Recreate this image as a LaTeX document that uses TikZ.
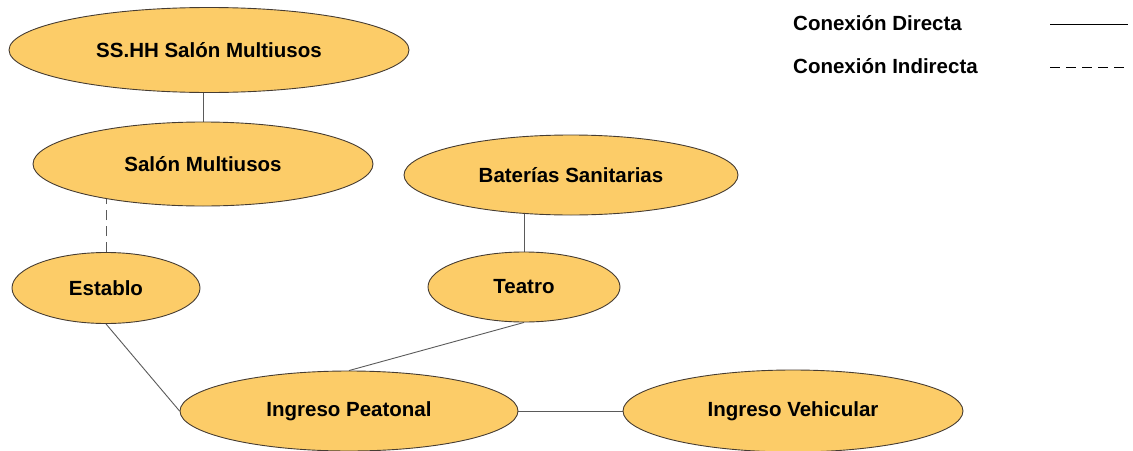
\documentclass[tikz,border=0pt]{standalone}
\usepackage{fontspec}
\setmainfont{Liberation Sans}
\usetikzlibrary{shapes.geometric,backgrounds}
\definecolor{bubble}{RGB}{252,204,104}
\definecolor{rim}{RGB}{70,60,50}
\definecolor{wire}{RGB}{90,90,90}
\tikzset{
  bubblenode/.style={ellipse, draw=rim, line width=0.9pt, fill=bubble, inner sep=0pt,
    font=\fontsize{20.5}{24}\selectfont\bfseries},
  wirestyle/.style={draw=wire, line width=0.9pt},
  wiredash/.style={draw=wire, line width=0.9pt, dash pattern=on 10pt off 6pt},
  legendtext/.style={anchor=west, inner sep=0pt, font=\fontsize{20.5}{24}\selectfont\bfseries}
}
\begin{document}
\begin{tikzpicture}[x=1pt,y=-1pt]
\useasboundingbox (0,0) rectangle (1133,450);
\node[bubblenode, minimum width=400pt, minimum height=85pt] (ss) at (209,50) {SS.HH Salón Multiusos};
\node[bubblenode, minimum width=340pt, minimum height=84pt] (salon) at (203,164) {Salón Multiusos};
\node[bubblenode, minimum width=334pt, minimum height=80pt] (bat) at (571,175) {Baterías Sanitarias};
\node[bubblenode, minimum width=188pt, minimum height=71pt] (est) at (106,288) {Establo};
\node[bubblenode, minimum width=192pt, minimum height=70pt] (teatro) at (524,287) {Teatro};
\node[bubblenode, minimum width=338pt, minimum height=80pt] (peat) at (349,411) {Ingreso Peatonal};
\node[bubblenode, minimum width=340pt, minimum height=82pt] (veh) at (793,411) {Ingreso Vehicular};
\begin{scope}[on background layer]
\draw[wirestyle] (salon.north) -- (salon.north |- ss.center);
\draw[wiredash] (est.north) -- (est.north |- salon.center);
\draw[wirestyle] (teatro.north) -- (teatro.north |- bat.center);
\draw[wirestyle] (est.south) -- (peat.west);
\draw[wirestyle] (teatro.south) -- (peat.north);
\draw[wirestyle] (peat.east) -- (veh.west);
\end{scope}
\node[legendtext] (l1) at (793,23) {Conexión Directa};
\node[legendtext] (l2) at (793,66) {Conexión Indirecta};
\coordinate (s1) at (1050,24);
\coordinate (s2) at (1128,24);
\coordinate (d1) at (1050,67);
\coordinate (d2) at (1128,67);
\draw[draw=black, line width=0.9pt] (s1) -- (s2);
\draw[draw=black, line width=0.9pt, dash pattern=on 10pt off 6pt] (d1) -- (d2);
\end{tikzpicture}
\end{document}
